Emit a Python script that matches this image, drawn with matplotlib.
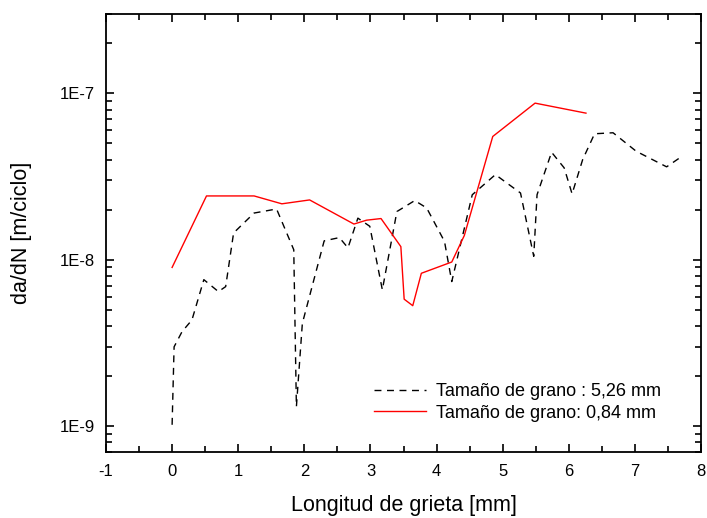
import matplotlib
matplotlib.use('Agg')
import matplotlib.pyplot as plt
from matplotlib.ticker import LogLocator, MultipleLocator, FixedFormatter, FixedLocator, NullFormatter

plt.rcParams['font.family'] = ['Liberation Sans', 'DejaVu Sans']
plt.rcParams['axes.unicode_minus'] = False

# grain size 5,26 mm
x_526 = [0.0, 0.03, 0.15, 0.30, 0.48, 0.70, 0.81, 0.93, 1.24, 1.58, 1.84, 1.88, 1.97,
         2.30, 2.53, 2.66, 2.81, 2.99, 3.18, 3.40, 3.67, 3.85, 4.12, 4.23, 4.54, 4.89,
         5.27, 5.47, 5.52, 5.74, 5.93, 6.05, 6.21, 6.39, 6.67, 7.02, 7.48, 7.69]
y_526 = [1.02e-9, 3.0e-9, 3.7e-9, 4.35e-9, 7.6e-9, 6.44e-9, 6.9e-9, 1.45e-8, 1.91e-8,
         2.02e-8, 1.15e-8, 1.31e-9, 4.15e-9, 1.30e-8, 1.36e-8, 1.18e-8, 1.78e-8, 1.59e-8,
         6.6e-9, 1.95e-8, 2.27e-8, 2.05e-8, 1.29e-8, 7.4e-9, 2.46e-8, 3.25e-8, 2.52e-8,
         1.05e-8, 2.46e-8, 4.43e-8, 3.57e-8, 2.49e-8, 4.0e-8, 5.72e-8, 5.8e-8, 4.49e-8,
         3.62e-8, 4.13e-8]

# grain size 0,84 mm
x_084 = [0.0, 0.52, 1.24, 1.66, 2.08, 2.75, 2.94, 3.16, 3.46, 3.51, 3.64, 3.77, 4.23,
         4.42, 4.85, 5.49, 6.26]
y_084 = [9.0e-9, 2.42e-8, 2.42e-8, 2.17e-8, 2.29e-8, 1.64e-8, 1.73e-8, 1.77e-8, 1.20e-8,
         5.8e-9, 5.3e-9, 8.3e-9, 9.7e-9, 1.40e-8, 5.51e-8, 8.74e-8, 7.61e-8]

fig = plt.figure(figsize=(7.07, 5.18), dpi=100)
ax = fig.add_axes([106/707, 1-452/518, (701-106)/707, (452-14)/518])

ax.plot(x_526, y_526, color='black', lw=1.0, dashes=(5, 4), label='Tamaño de grano : 5,26 mm')
ax.plot(x_084, y_084, color='red', lw=1.0, label='Tamaño de grano: 0,84 mm')

ax.set_yscale('log')
ax.set_xlim(-1, 8)
ax.set_ylim(7.0e-10, 3.0e-7)

ax.xaxis.set_major_locator(MultipleLocator(1))
ax.xaxis.set_minor_locator(MultipleLocator(0.5))
ax.yaxis.set_major_locator(FixedLocator([1e-9, 1e-8, 1e-7]))
ax.yaxis.set_major_formatter(FixedFormatter(['1E-9', '1E-8', '1E-7']))
ax.yaxis.set_minor_locator(LogLocator(base=10, subs=range(2, 10)))
ax.yaxis.set_minor_formatter(NullFormatter())

ax.tick_params(which='both', direction='in', top=True, right=True, width=1.2, labelsize=12)
ax.tick_params(which='major', length=6)
ax.tick_params(which='minor', length=4)
ax.tick_params(axis='x', pad=9)
ax.tick_params(axis='y', pad=8)
for s in ax.spines.values():
    s.set_linewidth(1.3)

ax.set_xlabel('Longitud de grieta [mm]', fontsize=15.5, labelpad=11)
ax.set_ylabel('da/dN [m/ciclo]', fontsize=15.5, labelpad=20)

ax.legend(loc='upper left', bbox_to_anchor=(0.435, 0.178), frameon=False, fontsize=13,
          handlelength=2.9, handletextpad=0.55, labelspacing=0.25, borderpad=0)

fig.savefig('out.png', dpi=100)
